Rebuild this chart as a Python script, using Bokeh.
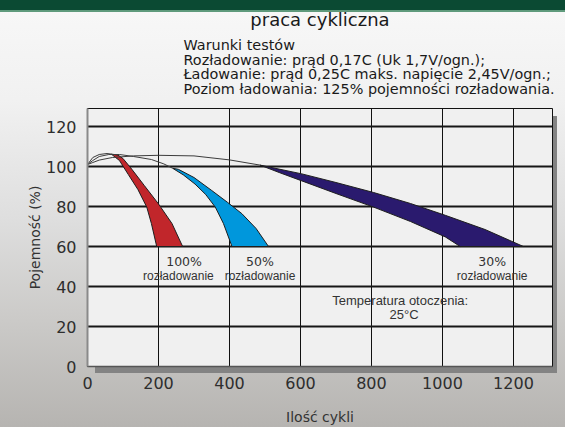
from bokeh.plotting import figure
from bokeh.models import FixedTicker, Range1d, ColumnDataSource, Title
from bokeh.core.properties import value
from bokeh.embed import file_html
from bokeh.resources import INLINE

# ---- data ----
x_ticks = [0, 200, 400, 600, 800, 1000, 1200]
y_ticks = [0, 20, 40, 60, 80, 100, 120]

# thin start-up curves (cycles, capacity %)
line100_x = [0, 15, 33, 55, 67]
line100_y = [101, 104.5, 106, 106.5, 106.2]
line50_x = [0, 15, 33, 60, 90, 130, 180, 215, 240]
line50_y = [101, 103, 105, 106, 106, 105, 103.5, 101.3, 99.1]
line30_x = [0, 15, 33, 70, 130, 200, 300, 400, 486]
line30_y = [101, 102, 103.2, 104.5, 105.3, 105.6, 105.3, 103.3, 100.7]

# bands: inner edge (fewer cycles) and outer edge (more cycles)
band100_in_x = [67, 90, 115, 142, 167, 180, 195]
band100_in_y = [106.2, 103, 96, 88.5, 79.7, 71.5, 60]
band100_out_x = [86, 100, 125, 160, 200, 238, 268]
band100_out_y = [105.7, 104, 98.6, 90.5, 81.3, 71.5, 60]

band50_in_x = [240, 270, 303, 333, 360, 383, 407]
band50_in_y = [99.1, 95.8, 91.2, 86, 79.7, 71.5, 60]
band50_out_x = [240, 256, 300, 350, 395, 435, 475, 510]
band50_out_y = [99.1, 98.6, 94.5, 88, 82, 76.4, 69, 60]

band30_in_x = [486, 540, 604, 700, 806, 910, 1008, 1050]
band30_in_y = [100.7, 97, 92.8, 86.5, 79.7, 72.5, 64.8, 60]
band30_out_x = [486, 604, 700, 806, 910, 1008, 1120, 1228]
band30_out_y = [100.7, 96.3, 92, 87, 81.5, 75.6, 68.5, 60]

band_colors = ["#c1262b", "#0097dc", "#2a1a6e"]

labels_pct = ["100%", "50%", "30%"]
label_word = "rozładowanie"

title_text = "praca cykliczna"
cond_lines = [
    "Warunki testów",
    "Rozładowanie: prąd 0,17C (Uk 1,7V/ogn.);",
    "Ładowanie: prąd 0,25C maks. napięcie 2,45V/ogn.;",
    "Poziom ładowania: 125% pojemności rozładowania.",
]
temp_lines = ["Temperatura otoczenia:", "25\u00b0C"]
x_label = "Ilość cykli"
y_label = "Pojemność (%)"

# ---- figure ----
p = figure(width=565, height=427, x_range=Range1d(0, 1310), y_range=Range1d(0, 129),
           output_backend="svg", toolbar_location=None,
           min_border_left=87, min_border_right=13, min_border_top=108, min_border_bottom=61)

shadow = "linear-gradient(#838383, #838383)"
p.styles = {"background": (
    f"{shadow} 552px 116px / 5px 257px no-repeat, "
    f"{shadow} 95px 366px / 462px 7px no-repeat, "
    "linear-gradient(to bottom, #0b4a33 0px, #0b4a33 10px, #5f9a7c 10px, #5f9a7c 11.5px, "
    "#f7f7f7 11.5px, #f1f1f1 100px, #dedede 220px, #cbcac8 320px, #b6b4b1 427px)")}
p.border_fill_color = None
p.background_fill_color = "#f0f0f0"
p.outline_line_color = "#111111"
p.outline_line_width = 1

# header texts
p.title.text = title_text
p.title.align = "center"
p.title.offset = 5.5
p.title.text_font = "DejaVu Sans"
p.title.text_font_size = "18px"
p.title.text_font_style = "normal"
p.title.text_color = "#1a1a1a"
p.title.text_line_height = 1.1
p.title.standoff = -12
block = Title(text="\n".join(cond_lines), align="left", offset=96, text_font="DejaVu Sans",
              text_font_size="14.4px", text_font_style="normal", text_color="#1a1a1a",
              text_line_height=0.92, standoff=23)
p.add_layout(block, "above")

# axes
p.xaxis.ticker = FixedTicker(ticks=x_ticks)
p.yaxis.ticker = FixedTicker(ticks=y_ticks)
for ax in (p.xaxis, p.yaxis):
    ax.major_tick_line_color = None
    ax.minor_tick_line_color = None
    ax.major_label_text_font = "DejaVu Sans"
    ax.major_label_text_font_size = "16px"
    ax.major_label_text_color = "#2e2e2e"
    ax.axis_label_text_font = "DejaVu Sans"
    ax.axis_label_text_font_size = "14px"
    ax.axis_label_text_font_style = "normal"
    ax.axis_label_text_color = "#333333"
p.xaxis.major_label_standoff = 4
p.yaxis.major_label_standoff = 5
p.xaxis.axis_line_color = "#555555"
p.xaxis.axis_line_width = 1.5
p.yaxis.axis_line_color = "#8a8a8a"
p.yaxis.axis_line_width = 2
p.yaxis.axis_label = y_label
p.yaxis.axis_label_standoff = 0
p.xaxis.axis_label = x_label
p.xaxis.axis_label_standoff = 17

# grid
p.xgrid.ticker = FixedTicker(ticks=x_ticks)
p.ygrid.ticker = FixedTicker(ticks=y_ticks)
p.xgrid.grid_line_color = "#111111"
p.xgrid.grid_line_width = 1
p.ygrid.grid_line_color = "#161616"
p.ygrid.grid_line_width = 2.2

# bands
bands = [
    (band100_in_x, band100_in_y, band100_out_x, band100_out_y),
    (band50_in_x, band50_in_y, band50_out_x, band50_out_y),
    (band30_in_x, band30_in_y, band30_out_x, band30_out_y),
]
for (ix, iy, ox, oy), col in zip(bands, band_colors):
    px = list(ix) + list(reversed(ox))
    py = list(iy) + list(reversed(oy))
    p.patch(px, py, fill_color=col, line_color="#1e1e1e", line_width=1)

for lx, ly in [(line100_x, line100_y), (line50_x, line50_y), (line30_x, line30_y)]:
    p.line(lx, ly, line_color="#3c3c3c", line_width=1)

# band labels
pct_src = ColumnDataSource(dict(x=[272, 486, 1140], y=[52.5, 52.5, 52.5], t=labels_pct))
p.text(x="x", y="y", text="t", source=pct_src, text_align="center", text_baseline="alphabetic",
       text_font=value("DejaVu Sans"), text_font_size="12.5px", text_color="#333333")
word_src = ColumnDataSource(dict(x=[256, 486, 1140], y=[45.5, 45.5, 45.5], t=[label_word] * 3))
p.text(x="x", y="y", text="t", source=word_src, text_align="center", text_baseline="alphabetic",
       text_font=value("Liberation Sans"), text_font_size="12px", text_color="#333333")

temp_src = ColumnDataSource(dict(x=[881, 892], y=[33, 26], t=temp_lines))
p.text(x="x", y="y", text="t", source=temp_src, text_align="center", text_baseline="alphabetic",
       text_font=value("Liberation Sans"), text_font_size="13px", text_color="#333333")

open("out.html", "w").write(file_html(p, INLINE))
